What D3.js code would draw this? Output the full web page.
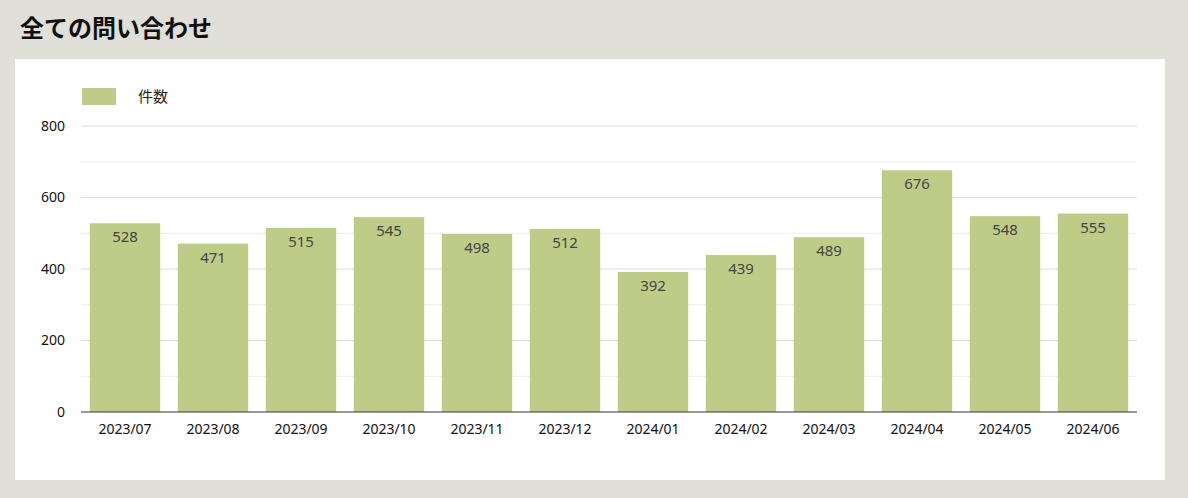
<!DOCTYPE html>
<html><head><meta charset="utf-8">
<script src="https://cdn.jsdelivr.net/npm/d3@7"></script>
<style>body{margin:0;background:#e0e0d8;font-family:"Noto Sans","Noto Sans CJK JP",sans-serif;}</style>
</head><body><svg id="c" width="1188" height="498"></svg>
<script>
const categories=["2023/07","2023/08","2023/09","2023/10","2023/11","2023/12","2024/01","2024/02","2024/03","2024/04","2024/05","2024/06"];
const values=[528,471,515,545,498,512,392,439,489,676,548,555];
const yTicks=[0,200,400,600,800];
const seriesName="件数";
const svg=d3.select("#c");
svg.append("rect").attr("width",1188).attr("height",498).attr("fill","#e0e0d8");
svg.append("text").attr("x",20).attr("y",37).attr("font-size",24).attr("font-weight","bold").attr("font-family","Noto Sans CJK JP").attr("fill","#111").text("全ての問い合わせ");
svg.append("rect").attr("x",15).attr("y",59).attr("width",1150).attr("height",421).attr("fill","#fff");
const x=d3.scaleBand().domain(categories).range([81,1137]).paddingInner(0.2).paddingOuter(0.1);
const y=d3.scaleLinear().domain([0,800]).range([412,126]);
const g=svg.append("g");
d3.range(100,801,100).forEach(v=>g.append("line").attr("x1",81).attr("x2",1137).attr("y1",y(v)).attr("y2",y(v)).attr("stroke",v%200?"#eeeeee":"#dddddd"));
g.selectAll(".b").data(values).join("rect").attr("x",(d,i)=>x(categories[i])).attr("y",d=>y(d)).attr("width",x.bandwidth()).attr("height",d=>y(0)-y(d)).attr("fill","#bfcc88");
g.selectAll(".l").data(values).join("text").attr("x",(d,i)=>x(categories[i])+x.bandwidth()/2).attr("y",d=>y(d)+19).attr("text-anchor","middle").attr("font-size",15).attr("fill","#444").text(d=>d);
g.append("line").attr("x1",81).attr("x2",1137).attr("y1",y(0)).attr("y2",y(0)).attr("stroke","#333");
const ya=svg.append("g").attr("transform","translate(81,0)").call(d3.axisLeft(y).tickValues(yTicks).tickSize(0).tickPadding(16));
ya.select(".domain").remove();ya.selectAll("text").attr("font-size",14).attr("fill","#111").attr("font-family","Noto Sans");
const xa=svg.append("g").attr("transform","translate(0,412)").call(d3.axisBottom(x).tickSize(0).tickPadding(12));
xa.select(".domain").remove();xa.selectAll("text").attr("font-size",14).attr("fill","#111").attr("font-family","Noto Sans");
svg.append("rect").attr("x",82).attr("y",88).attr("width",34).attr("height",17).attr("fill","#bfcc88");
svg.append("text").attr("x",138).attr("y",102).attr("font-size",15).attr("fill","#222").attr("font-family","Noto Sans CJK JP").text(seriesName);
</script></body></html>
